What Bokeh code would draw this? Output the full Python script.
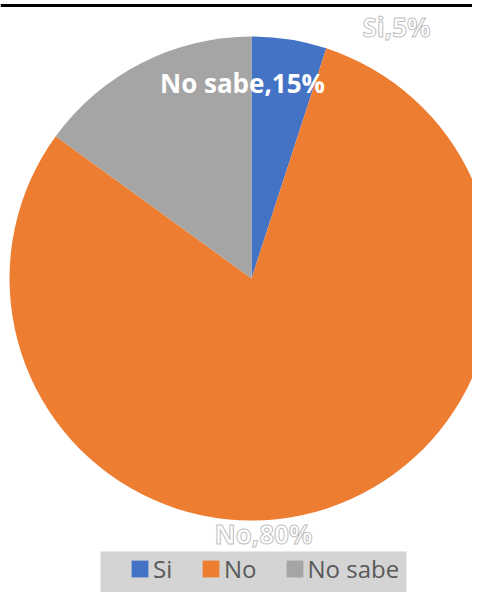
from math import pi, nan
from bokeh.plotting import figure
from bokeh.models import Range1d, Span, BoxAnnotation, Legend, LegendItem, ColumnDataSource
from bokeh.core.properties import value
from bokeh.embed import file_html
from bokeh.resources import INLINE

categories = ["Si", "No", "No sabe"]
percents = [5, 80, 15]
colors = ["#4472C4", "#ED7D31", "#A5A5A5"]
labels = ["Si,5%", "No,80%", "No sabe,15%"]
label_x = [396, 263, 242]
label_y = [566, 59, 510]
label_outline = ["#BFBFBF", "#BFBFBF", None]

W, H = 472, 592
p = figure(width=W, height=H, x_range=Range1d(0, W), y_range=Range1d(0, H),
           output_backend="svg", toolbar_location=None,
           x_axis_type=None, y_axis_type=None, min_border=0)
p.outline_line_color = None
p.grid.visible = False
p.background_fill_color = "white"
p.border_fill_color = "white"

# top rule
p.add_layout(Span(location=H - 5, dimension="width", line_color="black", line_width=3))

# pie
total = sum(percents)
starts, ends = [], []
cum = 0
for v in percents:
    starts.append(pi / 2 - 2 * pi * cum / total)
    cum += v
    ends.append(pi / 2 - 2 * pi * cum / total)
src = ColumnDataSource(dict(cat=categories, start=starts, end=ends, color=colors))
p.wedge(x=251, y=314, radius=242, start_angle="start", end_angle="end",
        direction="clock", fill_color="color", line_color=None, source=src)

# data labels
for i in range(len(labels)):
    kw = {}
    if label_outline[i]:
        kw["text_outline_color"] = label_outline[i]
    p.text(x=[label_x[i]], y=[label_y[i]], text=[labels[i]],
           text_font=value("Open Sans"), text_font_style="bold",
           text_font_size="26px", text_color="white",
           text_align="center", text_baseline="middle", **kw)

# legend background
p.add_layout(BoxAnnotation(left=100, right=406, top=41, fill_color="#D4D4D4",
                           fill_alpha=1, line_color=None))

# legend swatches (no geometry on the plot, only used by the legend)
leg_src = ColumnDataSource(dict(cat=categories, color=colors,
                                l=[nan] * 3, r=[nan] * 3, t=[nan] * 3, b=[nan] * 3))
swatch = p.quad(left="l", right="r", top="t", bottom="b", fill_color="color",
                line_color=None, source=leg_src)
items = [LegendItem(label=c, renderers=[swatch], index=i) for i, c in enumerate(categories)]

legend = Legend(items=items, orientation="horizontal", location=(129, 7),
                glyph_width=21, glyph_height=21, label_standoff=3, spacing=27,
                padding=0, margin=0, background_fill_alpha=0, border_line_alpha=0,
                label_text_font="Open Sans", label_text_font_size="24px",
                label_text_color="#595959")
p.add_layout(legend, "center")

open("out.html", "w").write(file_html(p, INLINE))
